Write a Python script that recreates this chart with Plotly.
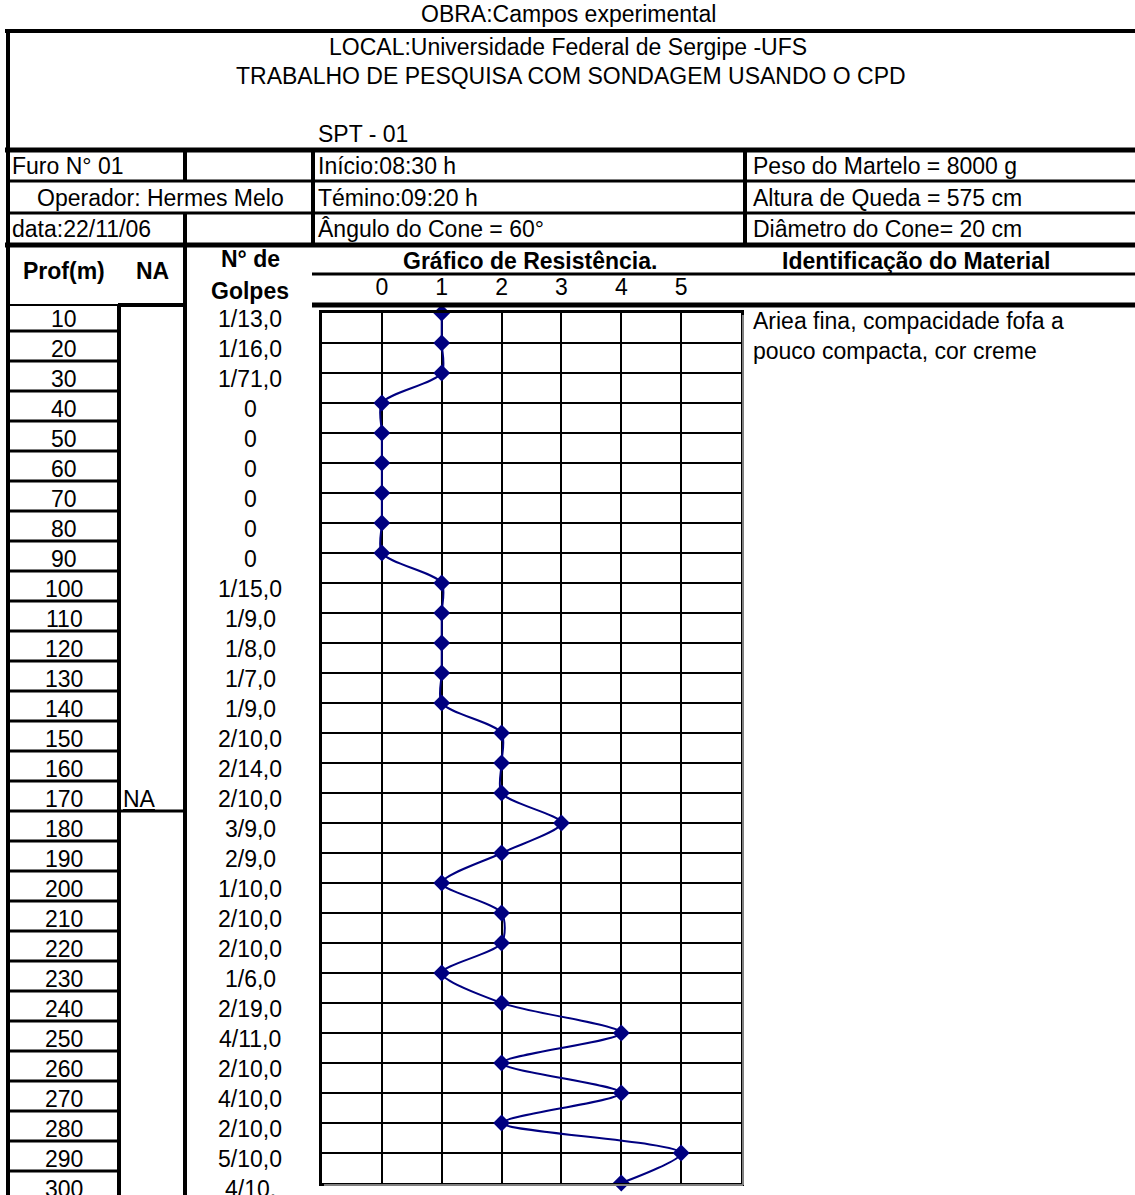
import plotly.graph_objects as go

# Dados da sondagem SPT - 01
profundidades = [10, 20, 30, 40, 50, 60, 70, 80, 90, 100,
                 110, 120, 130, 140, 150, 160, 170, 180, 190, 200,
                 210, 220, 230, 240, 250, 260, 270, 280, 290, 300]
golpes = ["1/13,0", "1/16,0", "1/71,0", "0", "0", "0", "0", "0", "0", "1/15,0",
          "1/9,0", "1/8,0", "1/7,0", "1/9,0", "2/10,0", "2/14,0", "2/10,0", "3/9,0", "2/9,0", "1/10,0",
          "2/10,0", "2/10,0", "1/6,0", "2/19,0", "4/11,0", "2/10,0", "4/10,0", "2/10,0", "5/10,0", "4/10,"]
resistencia = [1, 1, 1, 0, 0, 0, 0, 0, 0, 1,
               1, 1, 1, 1, 2, 2, 2, 3, 2, 1,
               2, 2, 1, 2, 4, 2, 4, 2, 5, 4]
escala_vals = [0, 1, 2, 3, 4, 5]
escala_txt = ["0", "1", "2", "3", "4", "5"]
prof_na = 170

W, H = 1135, 1195
FONTE = "Liberation Sans, Arial, sans-serif"
TAM = 23
AZUL = "#000080"


def X(p):
    return p / W


def Y(p):
    return 1 - p / H


shapes = []
annots = []


def hline(x0, x1, y, w=3, cor="black"):
    shapes.append(dict(type="line", xref="paper", yref="paper", x0=X(x0), x1=X(x1),
                       y0=Y(y), y1=Y(y), line=dict(color=cor, width=w)))


def vline(x, y0, y1, w=3, cor="black"):
    shapes.append(dict(type="line", xref="paper", yref="paper", x0=X(x), x1=X(x),
                       y0=Y(y0), y1=Y(y1), line=dict(color=cor, width=w)))


def texto(t, x, y, anchor="left", bold=False, size=TAM):
    if bold:
        t = "<b>" + t + "</b>"
    annots.append(dict(text=t, xref="paper", yref="paper", x=X(x), y=Y(y),
                       xanchor=anchor, yanchor="middle", showarrow=False,
                       font=dict(family=FONTE, size=size, color="black")))


# cabecalho
texto("OBRA:Campos experimental", 568, 14, "center")
texto("LOCAL:Universidade Federal de Sergipe -UFS", 568, 47, "center")
texto("TRABALHO DE PESQUISA COM SONDAGEM USANDO O CPD", 571, 76, "center")
texto("SPT - 01", 316, 134)
texto("Furo N° 01", 10, 166)
texto("Operador: Hermes Melo", 160, 198, "center")
texto("data:22/11/06", 10, 229)
texto("Início:08:30 h", 316, 166)
texto("Témino:09:20 h", 316, 198)
texto("Ângulo do Cone = 60°", 316, 229)
texto("Peso do Martelo = 8000 g", 751, 166)
texto("Altura de Queda = 575 cm", 751, 198)
texto("Diâmetro do Cone= 20 cm", 751, 229)
texto("Prof(m)", 64, 271, "center", True)
texto("NA", 152, 271, "center", True)
texto("N° de", 250, 259, "center", True)
texto("Golpes", 250, 291, "center", True)
texto("Gráfico de Resistência.", 530, 261, "center", True)
texto("Identificação do Material", 916, 261, "center", True)
texto("Ariea fina, compacidade fofa a", 751, 321)
texto("pouco compacta, cor creme", 751, 351)

# linhas do cabecalho
hline(5, W, 31, 4)
vline(8, 29, H, 4)
hline(5, W, 150, 5)
hline(8, W, 181, 3)
hline(8, W, 213, 3)
hline(5, W, 245, 5)
vline(185, 150, 181, 4)
vline(185, 213, H, 4)
vline(313, 150, 245, 4)
vline(745, 150, 245, 4)
hline(312, W, 274, 3)
hline(312, W, 305, 5)
hline(118, 185, 305, 4)
hline(8, 118, 305, 2)
vline(119, 305, H, 4)

# colunas Prof / NA / golpes, ligadas ao eixo de profundidade
for p, g in zip(profundidades, golpes):
    annots.append(dict(text=str(p), xref="paper", yref="y", x=X(64), y=p, yshift=-6,
                       xanchor="center", yanchor="middle", showarrow=False,
                       font=dict(family=FONTE, size=TAM, color="black")))
    annots.append(dict(text=g, xref="paper", yref="y", x=X(250), y=p, yshift=-6,
                       xanchor="center", yanchor="middle", showarrow=False,
                       font=dict(family=FONTE, size=TAM, color="black")))
    if p < profundidades[-1]:
        shapes.append(dict(type="line", xref="paper", yref="y", x0=X(8), x1=X(119),
                           y0=p + 6, y1=p + 6, line=dict(color="black", width=3)))

annots.append(dict(text="<u>NA</u>", xref="paper", yref="y", x=X(121), y=prof_na, yshift=-6,
                   xanchor="left", yanchor="middle", showarrow=False,
                   font=dict(family=FONTE, size=TAM, color="black")))
shapes.append(dict(type="line", xref="paper", yref="y", x0=X(119), x1=X(185),
                   y0=prof_na + 6, y1=prof_na + 6, line=dict(color="black", width=3)))

# sombra do grafico
vline(743, 315, 1185, 2, "#808080")
hline(324, 743, 1185, 2, "#808080")

fig = go.Figure()
fig.add_trace(go.Scatter(
    x=resistencia, y=profundidades, mode="lines+markers",
    line=dict(color=AZUL, width=2, shape="spline", smoothing=0.8),
    marker=dict(symbol="diamond", size=13, color=AZUL),
    cliponaxis=False, showlegend=False))

fig.update_xaxes(domain=[X(322), X(741)], range=[-1, 6], side="top",
                 tickvals=escala_vals, ticktext=escala_txt, ticks="",
                 ticklabelstandoff=6,
                 tickfont=dict(family=FONTE, size=TAM, color="black"),
                 showgrid=True, gridcolor="black", gridwidth=1.5,
                 showline=True, linecolor="black", linewidth=3, mirror=True,
                 zeroline=False, fixedrange=True)
fig.update_yaxes(domain=[Y(1183), Y(313)], range=[300, 10],
                 tickvals=profundidades, showticklabels=False, ticks="",
                 showgrid=True, gridcolor="black", gridwidth=1.5,
                 showline=True, linecolor="black", linewidth=3, mirror=True,
                 zeroline=False, fixedrange=True)

fig.update_layout(width=W, height=H, margin=dict(l=0, r=0, t=0, b=0),
                  paper_bgcolor="white", plot_bgcolor="white",
                  shapes=shapes, annotations=annots, showlegend=False)

fig.write_html("out.html", config={"displayModeBar": False},
               post_script="document.body.style.margin='0px';")
